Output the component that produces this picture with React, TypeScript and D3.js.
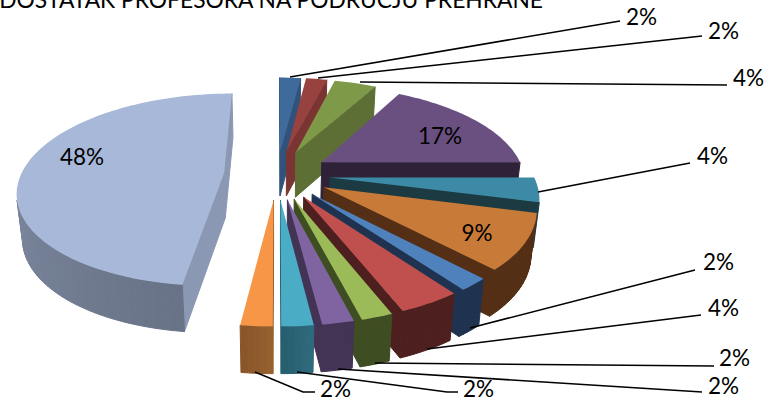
import React from "react";
import * as d3 from "d3";

const TITLE = "NEDOSTATAK PROFESORA NA PODRUČJU PREHRANE";
const values = [2, 2, 4, 17, 4, 9, 2, 4, 2, 2, 2, 2, 48];
const labels = ["2%", "2%", "4%", "17%", "4%", "9%", "2%", "4%", "2%", "2%", "2%", "2%", "48%"];
const topColors = ["#3e6a9c", "#97423f", "#7e9a48", "#6a5080", "#3c8aa5", "#c87a38", "#4f81bd", "#c0504d", "#9bbb59", "#8064a2", "#4bacc6", "#f79646", "#a8b8d8"];
const sideColors = ["#31527a", "#7a3533", "#5d6f35", "#2f2238", "#1b3a42", "#542f16", "#1f3350", "#4e1f1f", "#3f4d22", "#433355", "#265f70", "#8f5a2b", "#8a98b3"];
const wallFrom = ["#31527a", "#7a3533", "#5d6f35", "#2f2238", "#1b3a42", "#542f16", "#1f3350", "#4e1f1f", "#3f4d22", "#433355", "#2f6a7c", "#96602f", "#697387"];
const wallTo = ["#31527a", "#7a3533", "#5d6f35", "#2f2238", "#1b3a42", "#542f16", "#1f3350", "#4e1f1f", "#3f4d22", "#433355", "#265f70", "#8a5528", "#94a3bf"];

// outside labels: [text anchor x, text centre y, leader points]
const outside: { i: number; x: number; y: number; pts: [number, number][] }[] = [
  { i: 0, x: 626, y: 17, pts: [[290, 77], [620, 21]] },
  { i: 1, x: 708, y: 31, pts: [[318, 78], [702, 36]] },
  { i: 2, x: 733, y: 78, pts: [[360, 82], [727, 85]] },
  { i: 4, x: 697, y: 156, pts: [[538, 192], [690, 163]] },
  { i: 6, x: 703, y: 262, pts: [[470, 328], [695, 270]] },
  { i: 7, x: 708, y: 308, pts: [[427, 349], [701, 315]] },
  { i: 8, x: 719, y: 358, pts: [[375, 363], [714, 366]] },
  { i: 9, x: 708, y: 386, pts: [[338, 369], [702, 392]] },
  { i: 10, x: 463, y: 389, pts: [[297, 372], [447, 392], [458, 392]] },
  { i: 11, x: 320, y: 389, pts: [[255, 372], [303, 392], [315, 392]] },
];
const inside = [
  { i: 3, x: 440, y: 136 },
  { i: 5, x: 477, y: 233 },
  { i: 12, x: 82, y: 157 },
];

const CX = 277, CY = 174.5, RX = 203, RY = 93.8, PERSP = 0.175, EXPLODE = 0.262, DEPTH = 45, SHRINK = 0.977;
const FONT = "Lato, Carlito, sans-serif";

type P = [number, number];
const project = (X: number, Y: number): P => {
  const w = 1 + PERSP * Y;
  return [CX + (RX * X) / w, CY - (RY * Y) / w];
};
const drop = (X: number, Y: number): P => {
  const w = 1 + PERSP * Y;
  const [x, y] = project(X, Y);
  return [CX + (x - CX) * SHRINK, y + DEPTH / Math.pow(w, 0.2)];
};
const line = d3.line<P>();
const area = (p: P[]) => d3.polygonArea(p);

function slicePaths(start: number, end: number, i: number) {
  const mid = (start + end) / 2;
  const ox = EXPLODE * Math.sin(mid), oy = EXPLODE * Math.cos(mid);
  const steps = Math.max(4, Math.ceil((end - start) / 0.03));
  const angle = d3.scaleLinear().domain([0, steps]).range([start, end]);
  const rim: [number, number][] = d3.range(steps + 1).map((k) => [
    ox + Math.sin(angle(k)),
    oy + Math.cos(angle(k)),
  ]);
  const tip: [number, number] = [ox, oy];
  const shade = d3.scaleLinear<string>().domain([0, steps - 1]).range([wallFrom[i], wallTo[i]]);
  const out: { d: string; fill: string }[] = [];
  const top = [tip, ...rim].map((q) => project(q[0], q[1]));
  const face = (a: [number, number], b: [number, number], fill: string) => {
    const poly: P[] = [project(a[0], a[1]), project(b[0], b[1]), drop(b[0], b[1]), drop(a[0], a[1])];
    if (area(poly) > 0) out.push({ d: line(poly) + "Z", fill });
  };
  // each face runs clockwise round the slice, so a positive area faces the viewer
  face(rim[steps], tip, sideColors[i]);
  face(tip, rim[0], sideColors[i]);
  for (let k = 0; k < steps; k++) face(rim[k], rim[k + 1], shade(k) as string);
  return { walls: out, top: line(top) + "Z" };
}

export default function App() {
  const arcs = d3.pie<number>().sort(null).value((d) => d)(values);
  return (
    <svg width={767} height={400} style={{ position: "absolute", left: 0, top: 0 }} fontFamily={FONT}>
      <text x={543} y={8} textAnchor="end" fontSize={22.8} fill="#000">{TITLE}</text>
      {arcs.map((a, i) => {
        const s = slicePaths(a.startAngle, a.endAngle, i);
        return (
          <g key={i}>
            {s.walls.map((w, k) => (
              <path key={k} d={w.d} fill={w.fill} stroke={w.fill} strokeWidth={1} strokeLinejoin="round" />
            ))}
            <path d={s.top} fill={topColors[i]} />
          </g>
        );
      })}
      {outside.map((o) => (
        <g key={o.i}>
          <path d={line(o.pts) as string} fill="none" stroke="#000" strokeWidth={1.6} />
          <text x={o.x} y={o.y} dy="0.35em" fontSize={22.5} fill="#000">{labels[o.i]}</text>
        </g>
      ))}
      {inside.map((o) => (
        <text key={o.i} x={o.x} y={o.y} dy="0.35em" textAnchor="middle" fontSize={22.5} fill="#000">{labels[o.i]}</text>
      ))}
    </svg>
  );
}
